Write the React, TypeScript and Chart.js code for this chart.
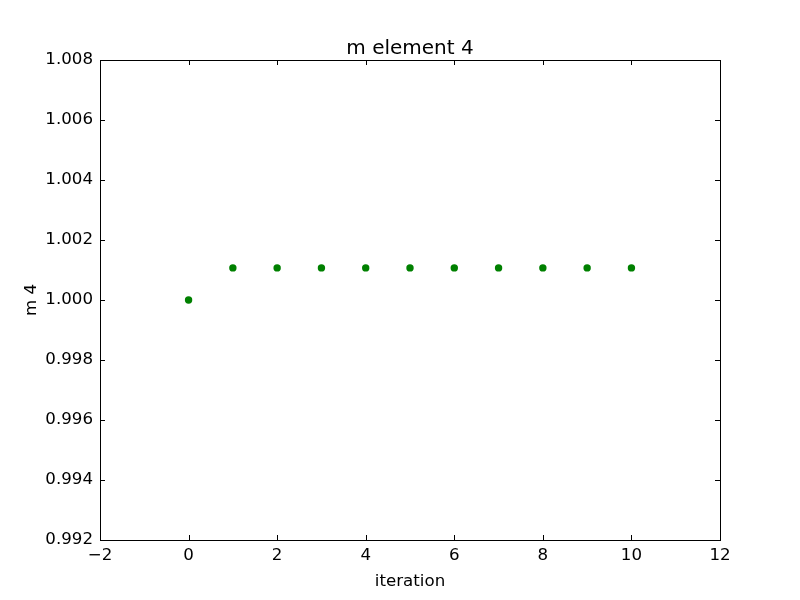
import React, { useEffect, useRef } from "react";
import { Chart, registerables } from "chart.js";

Chart.register(...registerables);

const iterations = [0, 1, 2, 3, 4, 5, 6, 7, 8, 9, 10];
const m4Values = [1.0, 1.00107, 1.00107, 1.00107, 1.00107, 1.00107, 1.00107, 1.00107, 1.00107, 1.00107, 1.00107];
const xTicks = [-2, 0, 2, 4, 6, 8, 10, 12];
const yTicks = [0.992, 0.994, 0.996, 0.998, 1.0, 1.002, 1.004, 1.006, 1.008];
const chartTitle = "m element 4";
const xLabel = "iteration";
const yLabel = "m 4";

const FONT = "DejaVu Sans";

const framePlugin = {
  id: "mplFrame",
  afterDraw(chart: any) {
    const { ctx, chartArea, scales } = chart;
    const { left, right, top, bottom } = chartArea;
    const xs = scales.x;
    const ys = scales.y;
    ctx.save();
    ctx.strokeStyle = "#000";
    ctx.lineWidth = 1;
    ctx.beginPath();
    for (const v of xTicks) {
      const px = Math.round(xs.getPixelForValue(v)) + 0.5;
      ctx.moveTo(px, bottom);
      ctx.lineTo(px, bottom - 5);
      ctx.moveTo(px, top);
      ctx.lineTo(px, top + 5);
    }
    for (const v of yTicks) {
      const py = Math.round(ys.getPixelForValue(v)) + 0.5;
      ctx.moveTo(left, py);
      ctx.lineTo(left + 5, py);
      ctx.moveTo(right, py);
      ctx.lineTo(right - 5, py);
    }
    ctx.stroke();
    ctx.strokeRect(left + 0.5, top + 0.5, right - left, bottom - top);

    ctx.fillStyle = "#000";
    ctx.textAlign = "center";
    ctx.textBaseline = "alphabetic";
    ctx.font = `20px '${FONT}'`;
    const cx = (left + right) / 2;
    ctx.fillText(chartTitle, cx, top - 6);
    ctx.font = `16.67px '${FONT}'`;
    ctx.fillText(xLabel, cx, 586);
    ctx.translate(36, (top + bottom) / 2);
    ctx.rotate(-Math.PI / 2);
    ctx.fillText(yLabel, 0, 0);
    ctx.restore();
  },
};

export default function App() {
  const ref = useRef<HTMLCanvasElement | null>(null);
  useEffect(() => {
    if (!ref.current) return;
    Chart.defaults.font.family = FONT;
    const chart = new Chart(ref.current, {
      type: "scatter",
      data: {
        datasets: [
          {
            label: yLabel,
            data: iterations.map((x, i) => ({ x, y: m4Values[i] })),
            backgroundColor: "#008000",
            borderColor: "#008000",
            borderWidth: 0,
            pointRadius: 3.7,
            pointHoverRadius: 3.7,
          },
        ],
      },
      options: {
        responsive: false,
        animation: false,
        layout: { padding: { top: 60, right: 80, left: 0, bottom: 0 } },
        plugins: {
          legend: { display: false },
          title: { display: false },
          tooltip: { enabled: false },
        },
        scales: {
          x: {
            type: "linear",
            min: -2,
            max: 12,
            afterFit: (s: any) => {
              s.height = 60;
            },
            afterBuildTicks: (s: any) => {
              s.ticks = xTicks.map((v) => ({ value: v }));
            },
            grid: { display: false, drawTicks: false },
            border: { display: false },
            ticks: {
              padding: 6,
              color: "#000",
              font: { size: 16.67, family: FONT },
              maxRotation: 0,
              autoSkip: false,
              callback: (v: any) => (Number(v) < 0 ? "\u2212" + Math.abs(Number(v)) : String(v)),
            },
          },
          y: {
            type: "linear",
            min: 0.992,
            max: 1.008,
            afterFit: (s: any) => {
              s.width = 100;
            },
            afterBuildTicks: (s: any) => {
              s.ticks = yTicks.map((v) => ({ value: v }));
            },
            grid: { display: false, drawTicks: false },
            border: { display: false },
            ticks: {
              padding: 7,
              color: "#000",
              font: { size: 16.67, family: FONT },
              autoSkip: false,
              callback: (v: any) => Number(v).toFixed(3),
            },
          },
        },
      },
      plugins: [framePlugin],
    });
    return () => chart.destroy();
  }, []);
  return (
    <div style={{ position: "absolute", left: 0, top: 0, width: 800, height: 600, background: "#fff" }}>
      <canvas ref={ref} width={800} height={600} style={{ display: "block" }} />
    </div>
  );
}
